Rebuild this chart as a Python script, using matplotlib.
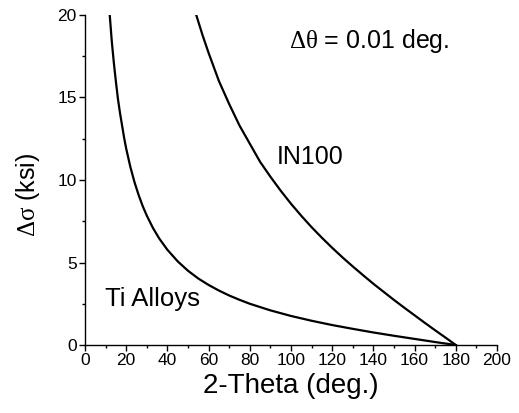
import numpy as np
import matplotlib
matplotlib.use("Agg")
import matplotlib.pyplot as plt
from matplotlib.ticker import MultipleLocator

plt.rcParams['font.family'] = ['Liberation Sans', 'DejaVu Sans']
plt.rcParams['mathtext.fontset'] = 'custom'
plt.rcParams['mathtext.rm'] = 'Liberation Serif'

# stress uncertainty vs diffraction angle
two_theta_ti = [12, 13, 14, 15, 16, 17, 18, 19, 20, 22, 24, 26, 28, 30, 33,
                36, 40, 45, 50, 55, 60, 65, 70, 75, 80, 90, 100, 110, 120,
                130, 140, 150, 160, 170, 180]
dsigma_ti = [20.0, 18.4, 17.1, 15.95, 14.9, 14.05, 13.3, 12.55, 11.9, 10.8,
             9.88, 9.10, 8.42, 7.84, 7.09, 6.46, 5.77, 5.07, 4.50, 4.03,
             3.64, 3.30, 3.00, 2.74, 2.50, 2.10, 1.76, 1.47, 1.21, 0.98,
             0.76, 0.56, 0.37, 0.18, 0.0]

two_theta_in100 = [54, 57, 60, 65, 70, 75, 80, 85, 90, 95, 100, 105, 110,
                   115, 120, 125, 130, 135, 140, 145, 150, 155, 160, 165,
                   170, 175, 180]
dsigma_in100 = [20.0, 18.8, 17.7, 16.0, 14.6, 13.3, 12.2, 11.1, 10.2, 9.35,
                8.56, 7.83, 7.14, 6.50, 5.89, 5.31, 4.76, 4.23, 3.71, 3.22,
                2.73, 2.26, 1.80, 1.34, 0.89, 0.45, 0.0]

fig = plt.figure(figsize=(5.19, 4.13), dpi=100)
ax = fig.add_axes([0.1638, 0.1646, 0.7938, 0.7991])

ax.plot(two_theta_ti, dsigma_ti, color='black', lw=1.6)
ax.plot(two_theta_in100, dsigma_in100, color='black', lw=1.6)

ax.set_xlim(0, 200)
ax.set_ylim(0, 20)
ax.xaxis.set_major_locator(MultipleLocator(20))
ax.xaxis.set_minor_locator(MultipleLocator(10))
ax.yaxis.set_major_locator(MultipleLocator(5))
ax.yaxis.set_minor_locator(MultipleLocator(2.5))
ax.spines['top'].set_visible(False)
ax.spines['right'].set_visible(False)
for s in ('left', 'bottom'):
    ax.spines[s].set_linewidth(1.0)
ax.tick_params(which='major', direction='out', length=4, width=1.0,
               labelsize=12.5, pad=2)
ax.tick_params(which='minor', direction='out', length=2.5, width=1.0)

ax.set_xlabel('2-Theta (deg.)', fontsize=20, labelpad=3)
ax.set_ylabel(r'$\mathrm{\Delta\sigma}$ (ksi)', fontsize=18, labelpad=7)
ax.yaxis.set_label_coords(-0.105, 0.455)

ax.text(99, 18.4, r'$\mathrm{\Delta\theta}$ = 0.01 deg.', fontsize=18, va='center', ha='left')
ax.text(93, 11.4, 'IN100', fontsize=18, va='center', ha='left')
ax.text(9.7, 2.8, 'Ti Alloys', fontsize=18.5, va='center', ha='left')

fig.savefig('out.png', dpi=100)
